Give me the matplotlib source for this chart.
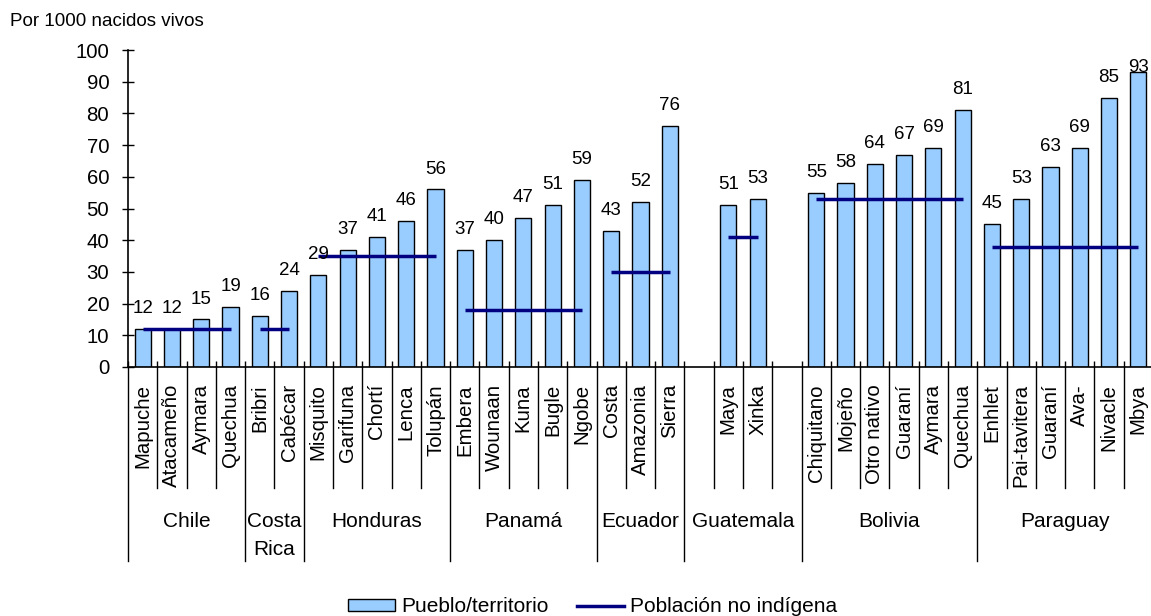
import matplotlib
matplotlib.use("Agg")
import matplotlib.pyplot as plt
from matplotlib.patches import Patch
from matplotlib.lines import Line2D
from matplotlib.transforms import blended_transform_factory

plt.rcParams["font.family"] = ["Liberation Sans", "DejaVu Sans"]

# Países y número de posiciones que ocupa cada uno en el eje
paises = ["Chile", "Costa\nRica", "Honduras", "Panamá", "Ecuador",
          "Guatemala", "Bolivia", "Paraguay"]
posiciones_por_pais = [4, 2, 5, 5, 3, 4, 6, 6]

# Pueblos / territorios (cadena vacía = posición sin dato)
pueblos = [
    "Mapuche", "Atacameño", "Aymara", "Quechua",
    "Bribri", "Cabécar",
    "Misquito", "Garifuna", "Chortí", "Lenca", "Tolupán",
    "Embera", "Wounaan", "Kuna", "Bugle", "Ngobe",
    "Costa", "Amazonia", "Sierra",
    "", "Maya", "Xinka", "",
    "Chiquitano", "Mojeño", "Otro nativo", "Guaraní", "Aymara", "Quechua",
    "Enhlet", "Pai-tavitera", "Guaraní", "Ava-", "Nivacle", "Mbya",
]

# Tasa por 1000 nacidos vivos en cada pueblo / territorio
tasa_pueblo = [
    12, 12, 15, 19,
    16, 24,
    29, 37, 41, 46, 56,
    37, 40, 47, 51, 59,
    43, 52, 76,
    None, 51, 53, None,
    55, 58, 64, 67, 69, 81,
    45, 53, 63, 69, 85, 93,
]

# Tasa de la población no indígena de cada país
tasa_no_indigena = [12, 12, 35, 18, 30, 41, 53, 38]

# Colores
COLOR_BARRA = "#99CCFF"
COLOR_LINEA = "#000080"

W, H = 1151, 616
fig = plt.figure(figsize=(W / 100, H / 100), dpi=100)


def fy(px):
    """Vertical pixel (from top) to figure fraction."""
    return 1 - px / H


x_left, x_right = 128, 1153
y_top, y_bottom = 50, 367
ax = fig.add_axes([x_left / W, fy(y_bottom), (x_right - x_left) / W,
                   (y_bottom - y_top) / H])

n = len(pueblos)
centros = [i + 0.5 for i in range(n)]

# Barras de cada pueblo
xs = [c for c, v in zip(centros, tasa_pueblo) if v is not None]
vs = [v for v in tasa_pueblo if v is not None]
ax.bar(xs, vs, width=0.55, color=COLOR_BARRA, edgecolor="black",
       linewidth=1.0, zorder=2)

# Etiquetas de valor (dentro del marco de 0 a 100)
for x, v in zip(xs, vs):
    ax.text(x, min(v + 5.0, 93.1), f"{v:g}", ha="center", va="baseline",
            fontsize=13.5, zorder=5, clip_on=False)

# Línea de la población no indígena por país
inicio = 0
for n_pos, valor in zip(posiciones_por_pais, tasa_no_indigena):
    idx = [i for i in range(inicio, inicio + n_pos) if tasa_pueblo[i] is not None]
    ax.plot([centros[idx[0]], centros[idx[-1]]], [valor, valor],
            color=COLOR_LINEA, linewidth=2.5, solid_capstyle="butt", zorder=4)
    inicio += n_pos

# Ejes
ax.set_xlim(0, n)
ax.set_ylim(0, 100)
ax.set_yticks(range(0, 101, 10))
ax.tick_params(axis="y", direction="inout", length=9, width=1.0, pad=9,
               labelsize=14.7)
ax.set_xticks(range(0, n + 1))
ax.set_xticklabels([])
ax.tick_params(axis="x", direction="in", length=4.3, width=1.0)
for s in ("top", "right"):
    ax.spines[s].set_visible(False)
for s in ("left", "bottom"):
    ax.spines[s].set_linewidth(1.2)
    ax.spines[s].set_color("black")

# Eje de categorías de dos niveles
tr = blended_transform_factory(ax.transData, fig.transFigure)
limites_pais = [0]
for n_pos in posiciones_por_pais:
    limites_pais.append(limites_pais[-1] + n_pos)

for b in range(n + 1):
    fondo = 561 if b in limites_pais else 488
    ax.plot([b, b], [fy(y_bottom), fy(fondo)], color="black", linewidth=1.0,
            transform=tr, clip_on=False)

for c, nombre in zip(centros, pueblos):
    if nombre:
        ax.text(c, fy(384), nombre, rotation=90, ha="center", va="top",
                fontsize=14.7, transform=tr)

for k, nombre in enumerate(paises):
    centro = (limites_pais[k] + limites_pais[k + 1]) / 2
    for j, linea in enumerate(nombre.split("\n")):
        ax.text(centro, fy(527 + 28 * j), linea, ha="center", va="baseline",
                fontsize=15, transform=tr)

# Unidad
fig.text(10 / W, fy(21), "Por 1000 nacidos vivos", ha="left", va="center",
         fontsize=13.5)

# Leyenda
manejadores = [
    Patch(facecolor=COLOR_BARRA, edgecolor="black", linewidth=1.0),
    Line2D([0], [0], color=COLOR_LINEA, linewidth=2.5),
]
fig.legend(manejadores, ["Pueblo/territorio", "Población no indígena"],
           loc="center left", bbox_to_anchor=(348 / W, fy(607)), ncol=2,
           frameon=False, fontsize=15, handlelength=2.25, handleheight=0.5,
           handletextpad=0.3, columnspacing=1.35, borderpad=0,
           borderaxespad=0)

fig.savefig("out.png", dpi=100)
